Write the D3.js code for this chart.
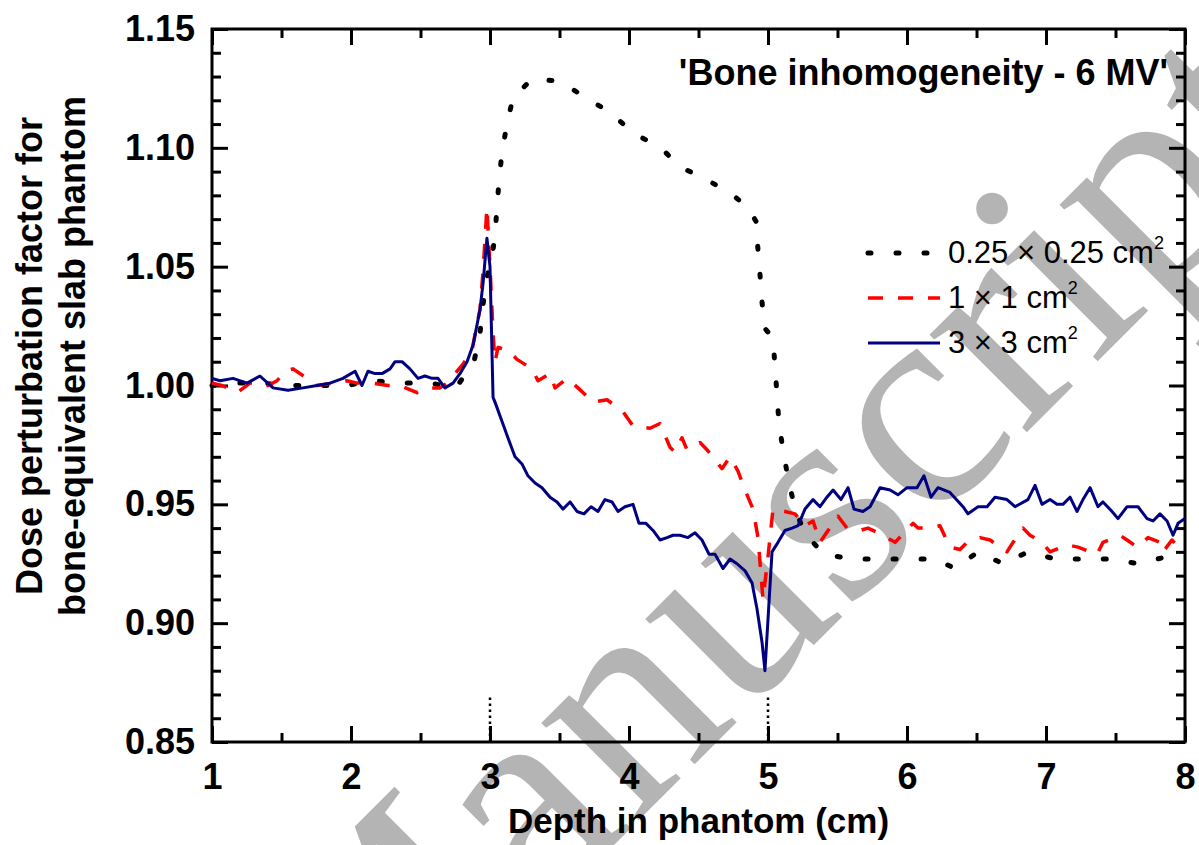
<!DOCTYPE html>
<html>
<head>
<meta charset="utf-8">
<script src="https://cdn.jsdelivr.net/npm/d3@7"></script>
<style>
  html, body { margin: 0; padding: 0; background: #fff; }
  svg { display: block; }
  text { font-family: 'Liberation Sans', Arial, sans-serif; }
</style>
</head>
<body>
<div id="chart"></div>
<script>
// Dose perturbation factor, bone inhomogeneity, 6 MV

// 3 x 3 cm2 field (solid navy)
const blueX = [1.000,1.058,1.151,1.252,1.345,1.439,1.547,1.655,1.755,1.849,1.942,2.029,2.079,2.122,2.173,2.223,2.281,2.317,2.367,2.424,
  2.482,2.532,2.583,2.626,2.676,2.734,2.784,2.835,2.878,2.928,2.950,2.978,3.000,3.022,3.036,3.086,3.129,3.180,3.230,3.273,
  3.324,3.374,3.432,3.482,3.525,3.576,3.626,3.676,3.727,3.777,3.827,3.878,3.921,3.971,4.029,4.072,4.122,4.173,4.223,4.273,
  4.317,4.367,4.424,4.475,4.525,4.576,4.619,4.676,4.727,4.777,4.835,4.885,4.921,4.957,4.978,5.029,5.072,5.122,5.173,5.216,
  5.266,5.324,5.374,5.424,5.468,5.525,5.576,5.619,5.683,5.734,5.806,5.878,5.935,6.000,6.072,6.122,6.173,6.223,6.309,6.403,
  6.439,6.511,6.576,6.633,6.719,6.777,6.870,6.921,6.971,7.029,7.079,7.122,7.173,7.223,7.266,7.317,7.374,7.410,7.475,7.518,
  7.583,7.662,7.727,7.770,7.820,7.871,7.914,7.950,8.000];
const blueY = [1.003,1.002,1.003,1.001,1.004,0.999,0.998,0.999,1.000,1.001,1.003,1.006,1.000,1.006,1.005,1.005,1.007,1.010,1.010,1.007,
  1.003,1.004,1.003,1.003,0.999,1.001,1.005,1.010,1.017,1.032,1.043,1.062,1.050,0.995,0.993,0.985,0.978,0.970,0.967,0.962,
  0.959,0.957,0.953,0.951,0.948,0.951,0.947,0.946,0.949,0.947,0.952,0.951,0.947,0.949,0.950,0.942,0.942,0.939,0.935,0.936,
  0.937,0.937,0.936,0.938,0.935,0.929,0.929,0.923,0.927,0.925,0.922,0.917,0.906,0.892,0.880,0.930,0.934,0.939,0.940,0.941,
  0.948,0.952,0.949,0.953,0.956,0.952,0.957,0.948,0.947,0.949,0.957,0.956,0.954,0.957,0.957,0.962,0.953,0.957,0.955,0.949,
  0.946,0.949,0.949,0.953,0.952,0.949,0.952,0.958,0.950,0.952,0.950,0.950,0.953,0.947,0.952,0.957,0.949,0.951,0.947,0.944,
  0.949,0.949,0.944,0.943,0.946,0.943,0.937,0.942,0.944];

// 1 x 1 cm2 field (red dashed)
const redX = [1.000,1.072,1.180,1.273,1.331,1.403,1.468,1.525,1.583,1.683,1.755,1.871,1.971,2.043,2.151,2.266,2.353,2.475,2.547,2.640,
  2.691,2.748,2.806,2.871,2.928,2.950,2.978,3.000,3.022,3.036,3.058,3.129,3.194,3.302,3.345,3.432,3.468,3.554,3.633,3.741,
  3.842,3.957,4.029,4.151,4.223,4.295,4.331,4.381,4.417,4.511,4.561,4.669,4.727,4.784,4.835,4.892,4.928,4.964,5.000,5.036,
  5.122,5.194,5.266,5.324,5.374,5.432,5.504,5.568,5.662,5.719,5.827,5.914,6.043,6.079,6.165,6.237,6.309,6.381,6.432,6.525,
  6.597,6.719,6.763,6.835,6.885,6.971,7.029,7.151,7.230,7.367,7.410,7.532,7.583,7.655,7.734,7.820,7.842,7.906,7.986];
const redY = [1.001,1.000,0.997,1.001,1.001,1.000,1.002,1.006,1.007,1.003,1.000,1.001,1.002,1.001,1.001,1.000,1.000,0.997,0.999,0.999,
  1.001,1.005,1.009,1.015,1.032,1.048,1.075,1.050,1.022,1.010,1.016,1.015,1.011,1.007,1.002,1.005,0.999,1.003,0.999,0.993,
  0.994,0.989,0.983,0.982,0.984,0.974,0.972,0.978,0.973,0.976,0.973,0.965,0.970,0.964,0.956,0.948,0.936,0.910,0.928,0.948,
  0.947,0.946,0.941,0.943,0.934,0.939,0.945,0.940,0.939,0.940,0.937,0.934,0.942,0.940,0.940,0.941,0.932,0.931,0.934,0.936,
  0.935,0.930,0.934,0.940,0.937,0.934,0.930,0.933,0.932,0.929,0.934,0.937,0.935,0.932,0.936,0.934,0.930,0.935,0.930];

// 0.25 x 0.25 cm2 field (black dotted)
const blackX = [1.000,1.151,1.360,1.561,1.763,1.971,2.158,2.367,2.568,2.755,2.885,2.928,2.950,2.971,3.014,3.036,3.050,3.065,3.086,3.122,
  3.165,3.302,3.504,3.691,3.863,4.036,4.230,4.367,4.547,4.727,4.856,4.914,4.928,4.942,4.957,4.978,5.036,5.050,5.065,5.079,
  5.108,5.144,5.187,5.259,5.403,5.604,5.791,6.000,6.201,6.345,6.511,6.691,6.871,7.065,7.266,7.475,7.662,7.871,7.986];
const blackY = [1.000,1.001,1.001,1.000,1.000,1.000,1.002,1.001,1.001,0.999,1.010,1.022,1.034,1.044,1.054,1.063,1.075,1.086,1.098,1.110,
  1.121,1.129,1.128,1.121,1.115,1.106,1.100,1.092,1.087,1.081,1.075,1.069,1.057,1.047,1.035,1.024,1.020,1.008,0.996,0.984,
  0.973,0.961,0.950,0.938,0.929,0.927,0.927,0.927,0.927,0.923,0.930,0.925,0.930,0.927,0.927,0.927,0.925,0.928,0.929];

// interface markers (slab from 3 to 5 cm)
const interfaceX = [3, 5];
const interfaceY = [0.85, 0.87];

const xMajor = [1, 2, 3, 4, 5, 6, 7, 8];
const xMinor = [1.5, 2.5, 3.5, 4.5, 5.5, 6.5, 7.5];
const yMajor = [0.85, 0.90, 0.95, 1.00, 1.05, 1.10, 1.15];
const yMinor = d3.range(85, 116).map(v => v / 100).filter(v => !yMajor.some(m => Math.abs(m - v) < 1e-6));

const legendLabels = ['0.25 \u00d7 0.25 cm', '1 \u00d7 1 cm', '3 \u00d7 3 cm'];
const titleText = "'Bone inhomogeneity - 6 MV'";
const xTitle = 'Depth in phantom (cm)';
const yTitleLines = ['Dose perturbation factor for', 'bone-equivalent slab phantom'];
const watermark = 'Manuscript';

const W = 1199, H = 845;
const plot = { left: 212, right: 1185, top: 29, bottom: 742 };

const svg = d3.select('#chart').append('svg')
  .attr('width', W).attr('height', H)
  .attr('viewBox', `0 0 ${W} ${H}`);

const x = d3.scaleLinear().domain([1, 8]).range([plot.left, plot.right]);
const y = d3.scaleLinear().domain([0.85, 1.15]).range([plot.bottom, plot.top]);

// watermark (gray serif, rotated)
svg.append('text')
  .attr('transform', 'translate(351,1108) rotate(-45)')
  .style('font-family', "'Liberation Serif', 'DejaVu Serif', serif")
  .attr('font-size', 300)
  .attr('fill', '#b4b4b4')
  .text(watermark);

// axes: inward ticks on all four sides
function tickAxis(gen, scale, values, size, tx, ty) {
  const g = svg.append('g').attr('transform', `translate(${tx},${ty})`)
    .call(gen(scale).tickValues(values).tickSizeInner(-size).tickSizeOuter(0).tickFormat(''));
  g.select('.domain').remove();
  g.selectAll('line').attr('stroke', '#000').attr('stroke-width', 3);
  return g;
}
tickAxis(d3.axisBottom, x, xMinor, 9, 0, plot.bottom);
tickAxis(d3.axisTop, x, xMinor, 9, 0, plot.top);
tickAxis(d3.axisTop, x, xMajor, 16, 0, plot.top);
tickAxis(d3.axisLeft, y, yMinor, 9, plot.left, 0);
tickAxis(d3.axisRight, y, yMinor, 9, plot.right, 0);
tickAxis(d3.axisRight, y, yMajor, 16, plot.right, 0);

const xAxis = svg.append('g').attr('transform', `translate(0,${plot.bottom})`)
  .call(d3.axisBottom(x).tickValues(xMajor).tickSizeInner(-16).tickSizeOuter(0)
    .tickPadding(21).tickFormat(d3.format('d')));
const yAxis = svg.append('g').attr('transform', `translate(${plot.left},0)`)
  .call(d3.axisLeft(y).tickValues(yMajor).tickSizeInner(-16).tickSizeOuter(0)
    .tickPadding(17).tickFormat(d3.format('.2f')));
[xAxis, yAxis].forEach(g => {
  g.select('.domain').remove();
  g.selectAll('line').attr('stroke', '#000').attr('stroke-width', 3);
  g.selectAll('text')
    .attr('fill', '#000')
    .style('font-family', "'Liberation Sans', Arial, sans-serif")
    .attr('font-size', 36).attr('font-weight', 'bold');
});

// frame
svg.append('rect')
  .attr('x', plot.left).attr('y', plot.top)
  .attr('width', plot.right - plot.left).attr('height', plot.bottom - plot.top)
  .attr('fill', 'none').attr('stroke', '#000').attr('stroke-width', 3);

// interface markers
interfaceX.forEach(v => {
  svg.append('line')
    .attr('x1', x(v)).attr('x2', x(v))
    .attr('y1', y(interfaceY[0])).attr('y2', y(interfaceY[1]))
    .attr('stroke', '#000').attr('stroke-width', 2.5)
    .attr('stroke-dasharray', '2.5,3.5');
});

// series
const line = d3.line().x(d => x(d[0])).y(d => y(d[1]));
const SERIES = [
  { xs: blackX, ys: blackY, color: '#000', width: 5, dash: '3,25', cap: 'round' },
  { xs: redX,   ys: redY,   color: '#ff0000', width: 3.5, dash: '15,15', cap: 'butt' },
  { xs: blueX,  ys: blueY,  color: '#000080', width: 3, dash: null, cap: 'butt' },
];
SERIES.forEach(s => {
  svg.append('path')
    .datum(s.xs.map((v, i) => [v, s.ys[i]]))
    .attr('d', line)
    .attr('fill', 'none')
    .attr('stroke', s.color)
    .attr('stroke-width', s.width)
    .attr('stroke-linecap', s.cap)
    .attr('stroke-linejoin', 'round')
    .attr('stroke-dasharray', s.dash);
});

// legend
const legendRows = [253, 298, 343];
SERIES.forEach((s, i) => {
  const ly = legendRows[i];
  svg.append('line')
    .attr('x1', 868).attr('x2', 940).attr('y1', ly).attr('y2', ly)
    .attr('stroke', s.color).attr('stroke-width', s.width)
    .attr('stroke-linecap', s.cap)
    .attr('stroke-dasharray', s.dash);
  const t = svg.append('text')
    .attr('x', 948).attr('y', ly + 10)
    .attr('font-size', 31).attr('fill', '#000')
    .text(legendLabels[i]);
  t.append('tspan').attr('dy', -14).attr('font-size', 18).text('2');
});

// title
svg.append('text')
  .attr('x', 1168).attr('y', 85)
  .attr('text-anchor', 'end')
  .attr('font-size', 36).attr('font-weight', 'bold')
  .text(titleText);

// x title
svg.append('text')
  .attr('x', (plot.left + plot.right) / 2).attr('y', 833)
  .attr('text-anchor', 'middle')
  .attr('font-size', 35).attr('font-weight', 'bold')
  .text(xTitle);

// y title (two lines)
yTitleLines.forEach((txt, i) => {
  svg.append('text')
    .attr('transform', `translate(${42 + i * 43},356) rotate(-90)`)
    .attr('text-anchor', 'middle')
    .attr('font-size', 36).attr('font-weight', 'bold')
    .text(txt);
});
</script>
</body>
</html>
